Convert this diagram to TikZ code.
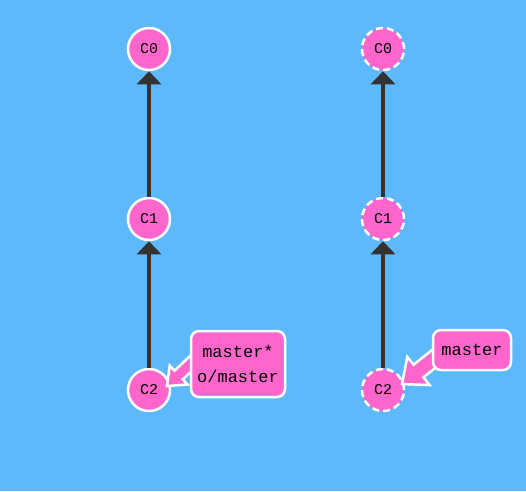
\documentclass[tikz,border=0pt]{standalone}
\usepackage{fontspec}
\newfontfamily\cour{Liberation Mono}
\usetikzlibrary{calc,arrows.meta}
\definecolor{bgblue}{RGB}{94,185,252}
\definecolor{cpink}{RGB}{255,102,204}
\definecolor{edgegray}{RGB}{51,51,51}
\newcommand\fatarrow[5]{%
  \path ($(#2)!#3!(#1)$) coordinate (fa-b);
  \draw[fatarr] ($(#1)!#5!90:(#2)$) -- ($(fa-b)!#5!-90:(#1)$) -- ($(fa-b)!#4!-90:(#1)$)
    -- (#2) -- ($(fa-b)!#4!90:(#1)$) -- ($(fa-b)!#5!90:(#1)$) -- ($(#1)!#5!-90:(#2)$) -- cycle;
}
\begin{document}
\begin{tikzpicture}[x=1pt,y=-1pt,
  commit/.style={circle,minimum size=42pt,inner sep=0pt,fill=cpink,draw=white,line width=2.5pt,font=\cour\fontsize{15}{15}\selectfont},
  dashcommit/.style={commit,dash pattern=on 7pt off 4pt},
  edge/.style={draw=edgegray,line width=3.2pt,-{Triangle[width=24pt,length=13pt]}},
  fatarr/.style={fill=cpink,draw=white,line width=2.5pt,line join=miter},
  branch/.style={rectangle,rounded corners=8pt,fill=cpink,draw=white,line width=2.5pt,align=center,inner sep=0pt,font=\cour\fontsize{17}{25}\selectfont}]
\fill[bgblue] (0,0) rectangle (526,491);
\useasboundingbox (0,0) rectangle (526,491);
% left repository
\node[commit] (lc0) at (149,49) {C0};
\node[commit] (lc1) at (149,219) {C1};
\node[commit] (lc2) at (149,390) {C2};
\draw[edge] (lc1) -- (lc0);
\draw[edge] (lc2) -- (lc1);
% right repository
\node[dashcommit] (rc0) at (383,49) {C0};
\node[dashcommit] (rc1) at (383,219) {C1};
\node[dashcommit] (rc2) at (383,390) {C2};
\draw[edge] (rc1) -- (rc0);
\draw[edge] (rc2) -- (rc1);
% branch pointers
\coordinate (lt) at ($(lc2)+(18,-4)$);
\coordinate (ls) at (202,353);
\fatarrow{ls}{lt}{16pt}{13pt}{6pt}
\coordinate (rt) at ($(rc2)+(19,-6)$);
\coordinate (rs) at (445,350);
\fatarrow{rs}{rt}{21pt}{18pt}{8pt}
\node[branch,minimum width=94pt,minimum height=66pt] (lb) at (238,364) {master*\\o/master};
\node[branch,minimum width=78pt,minimum height=40pt] (rb) at (472,350) {master};
\end{tikzpicture}
\end{document}
